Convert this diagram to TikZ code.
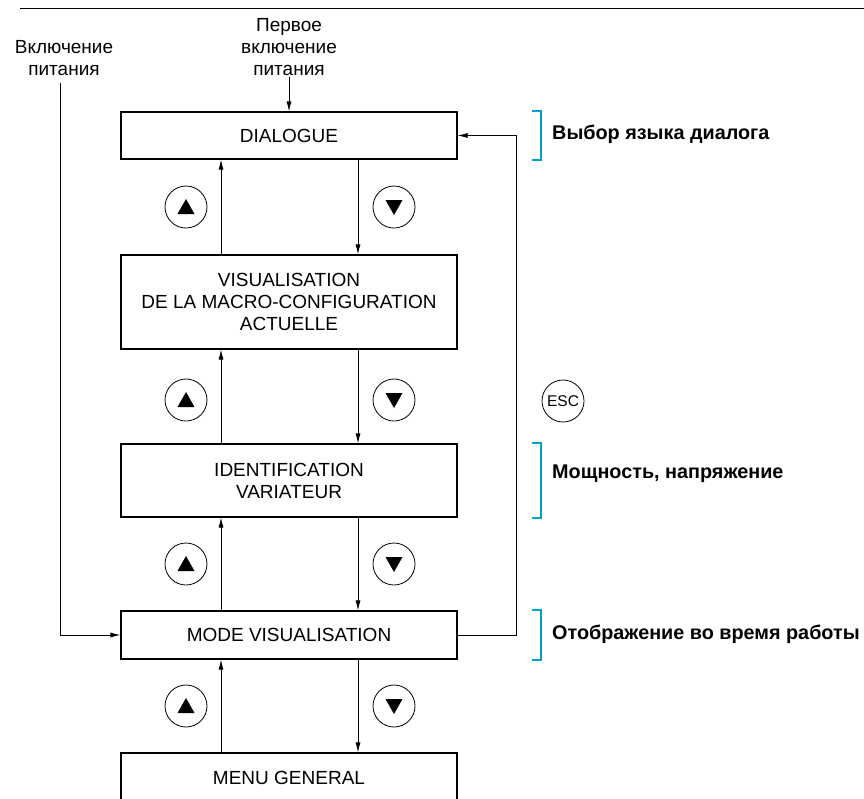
\documentclass[tikz,border=0pt]{standalone}
\usepackage{fontspec}
\setmainfont{Liberation Sans}
\usetikzlibrary{arrows.meta}
\definecolor{brkblue}{RGB}{0,160,204}

\tikzset{
  box/.style={draw, line width=1.2pt, minimum width=336pt, align=center, inner sep=0pt},
  btn/.style={draw, circle, line width=0.8pt, minimum size=42pt, inner sep=0pt},
  link/.style={line width=0.8pt, -{Latex[length=10pt,width=5pt]}},
  brk/.style={brkblue, line width=2pt},
  note/.style={anchor=west, inner sep=0pt, font=\bfseries\fontsize{19.8}{22}\selectfont},
}

\begin{document}
\begin{tikzpicture}[x=1pt, y=-1pt, font=\fontsize{19}{22}\selectfont]
    \clip (0,0) rectangle (864,798);
    \draw[line width=1pt] (20,8) -- (864,8);

    % menu boxes
    \node[box, minimum height=47pt] (dlg)  at (289,135.5) {DIALOGUE};
    \node[box, minimum height=94pt] (vis)  at (289,302)   {VISUALISATION\\DE LA MACRO-CONFIGURATION\\ACTUELLE};
    \node[box, minimum height=73pt] (idf)  at (289,480.5) {IDENTIFICATION\\VARIATEUR};
    \node[box, minimum height=48pt] (mode) at (289,635)   {MODE VISUALISATION};
    \node[box, minimum height=50pt] (menu) at (289,778)   {MENU GENERAL};

    \node[align=center, inner sep=1pt] (first) at (289,47) {Первое\\включение\\питания};
    \node[align=center, inner sep=1pt] (pwr)   at (64,58)  {Включение\\питания};

    \coordinate (ux) at (221,0);
    \coordinate (dx) at (358,0);
    \coordinate (lx) at (60,83);
    \coordinate (rx) at (516,0);
    \coordinate (bl) at (532,0);
    \coordinate (br) at (541,0);

    \draw[link] (first.south) -- (dlg.north);
    \draw[link] (lx) |- (mode.west);
    \draw[link] (mode.east) -- (mode.east -| rx) |- (dlg.east);

    \foreach \a/\b in {dlg/vis, vis/idf, idf/mode, mode/menu} {
        \draw[link] (\b.north -| ux) -- (\a.south -| ux);
        \draw[link] (\a.south -| dx) -- (\b.north -| dx);
    }

    % up / down keys
    \foreach \y/\i in {207/1, 400/2, 564/3, 706/4} {
        \node[btn] (up\i) at (186,\y) {};
        \node[btn] (dn\i) at (394,\y) {};
        \fill[shift={(up\i)}] (-8.5,7) -- (8.5,7) -- (0,-8) -- cycle;
        \fill[shift={(dn\i)}] (-8.5,-7) -- (8.5,-7) -- (0,8) -- cycle;
    }
    \node[btn, font=\fontsize{15.5}{18}\selectfont] (esc) at (563,401) {ESC};

    % notes
    \foreach \n in {dlg, idf, mode}
        \draw[brk] (\n.north -| bl) -| (\n.south -| br) -- (\n.south -| bl);
    \node[note] (lang)  at (552,134) {Выбор языка диалога};
    \node[note] (power) at (552,474) {Мощность, напряжение};
    \node[note] (run)   at (552,634) {Отображение во время работы};
\end{tikzpicture}
\end{document}
